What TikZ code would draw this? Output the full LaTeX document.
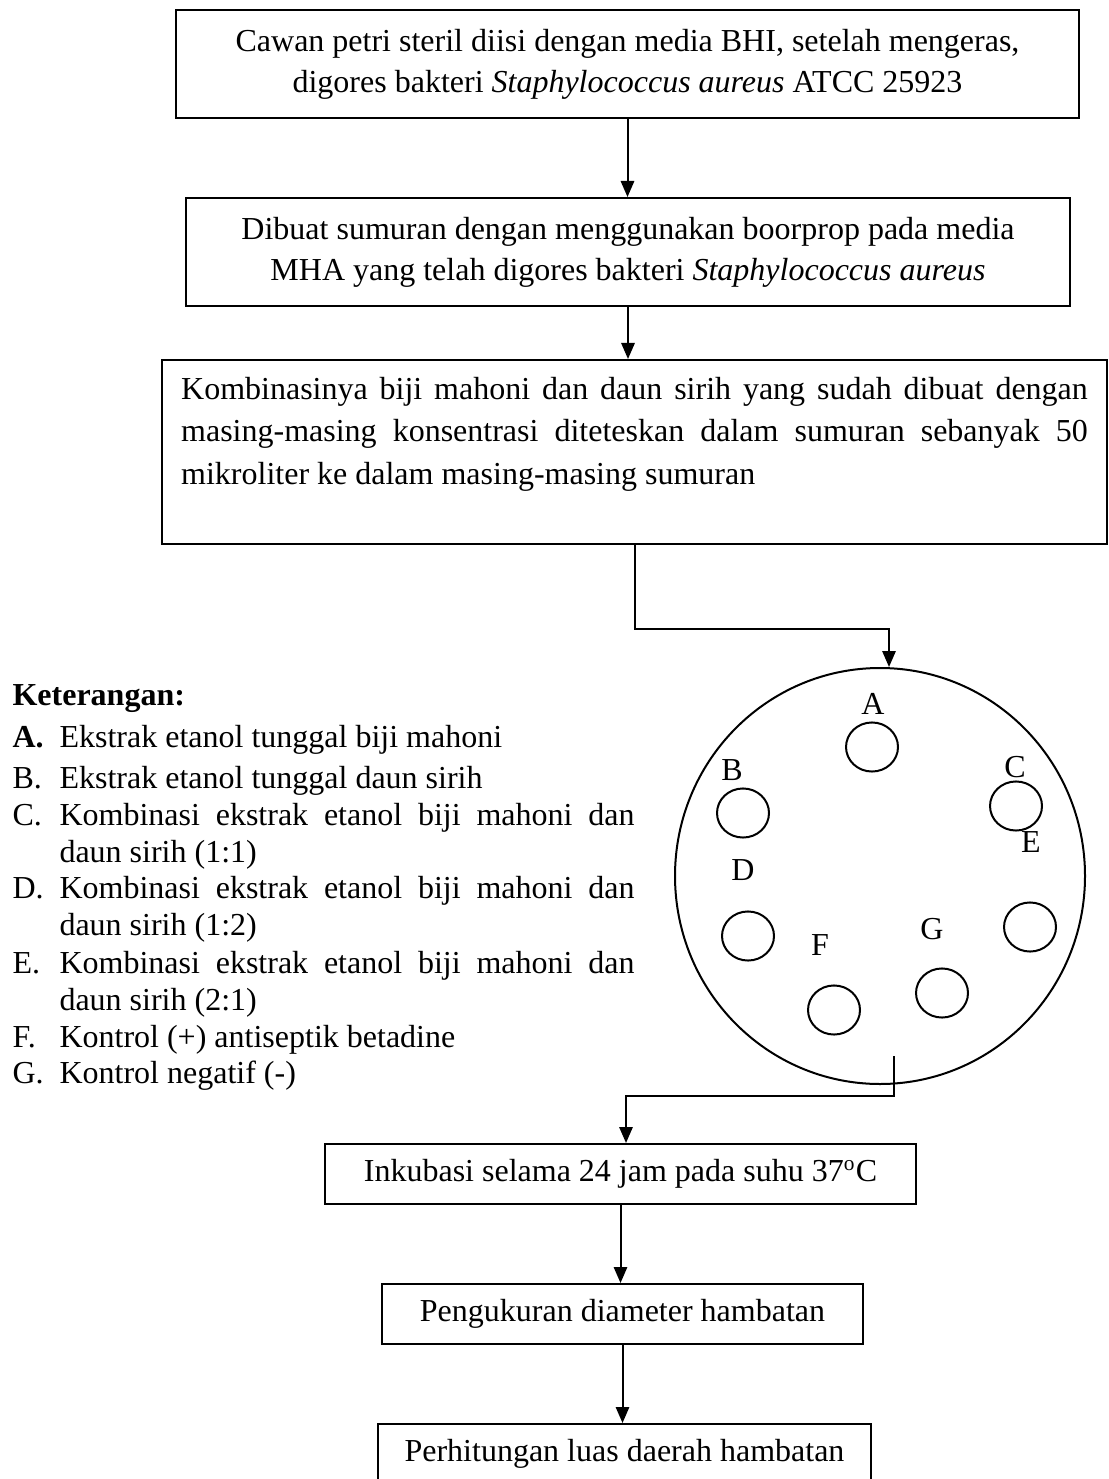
\documentclass[tikz,border=0pt]{standalone}
\usepackage{fontspec}
\setmainfont{Liberation Serif}
\usetikzlibrary{arrows.meta,shapes.geometric}
\tolerance=10000
\hbadness=10000
\hyphenpenalty=10000
\exhyphenpenalty=10000

\tikzset{
  box/.style={draw, line width=0.75pt, inner sep=0pt, align=center, font=\fontsize{12}{15.4}\selectfont},
  arr/.style={line width=0.75pt, -{Triangle[length=6pt,width=5pt]}},
  well/.style={line width=0.75pt},
  lbl/.style={anchor=base, inner sep=0pt, font=\fontsize{12}{14}\selectfont},
  ket/.style={anchor=base west, inner sep=0pt, font=\fontsize{12}{13.9}\selectfont},
  item/.style={ket, text width=215.6pt, align=justify}
}

\begin{document}
\begin{tikzpicture}[x=0.375pt, y=-0.375pt]
  \useasboundingbox (0,0) rectangle (1108,1479);
  \clip (0,0) rectangle (1108,1479);

  % langkah kerja
  \node[box, minimum width=338.6pt, minimum height=40.5pt] (cawan) at (627.5,64)
    {Cawan petri steril diisi dengan media BHI, setelah mengeras,\\
     digores bakteri \textit{Staphylococcus aureus} ATCC 25923};
  \node[box, minimum width=331.5pt, minimum height=40.5pt] (sumur) at (628,252)
    {Dibuat sumuran dengan menggunakan boorprop pada media\\
     MHA yang telah digores bakteri \textit{Staphylococcus aureus}};
  \node[box, minimum width=354.4pt, minimum height=69pt, text width=340pt, align=justify,
        font=\fontsize{12}{15.9}\selectfont] (kombinasi) at (634.5,452)
    {Kombinasinya biji mahoni dan daun sirih yang sudah dibuat dengan\linebreak
     masing-masing konsentrasi diteteskan dalam sumuran sebanyak 50\linebreak
     mikroliter ke dalam masing-masing sumuran\par\mbox{}};

  % cawan petri dengan sumuran
  \node[draw, ellipse, line width=0.75pt, minimum width=153.75pt, minimum height=156pt,
        inner sep=0pt] (plate) at (880,876) {};
  \draw[well] (872,747) ellipse [x radius=9.75pt, y radius=9.2pt];
  \draw[well] (743,813) ellipse [x radius=9.75pt, y radius=9.2pt];
  \draw[well] (1016,806) ellipse [x radius=9.75pt, y radius=9.2pt];
  \draw[well] (748,936) ellipse [x radius=9.75pt, y radius=9.2pt];
  \draw[well] (1030,927) ellipse [x radius=9.75pt, y radius=9.2pt];
  \draw[well] (834,1010) ellipse [x radius=9.75pt, y radius=9.2pt];
  \draw[well] (942,993) ellipse [x radius=9.75pt, y radius=9.2pt];
  \node[lbl] (labA) at (873,714) {A};
  \node[lbl] (labB) at (732,780) {B};
  \node[lbl] (labC) at (1015,777) {C};
  \node[lbl] (labE) at (1031,852) {E};
  \node[lbl] (labD) at (743,880) {D};
  \node[lbl] (labG) at (932,939) {G};
  \node[lbl] (labF) at (820,955) {F};

  \node[box, minimum width=221.6pt, minimum height=22.5pt] (inkubasi) at (620.5,1174)
    {Inkubasi selama 24 jam pada suhu 37\textsuperscript{o}C};
  \node[box, minimum width=180.4pt, minimum height=22.5pt] (ukur) at (622.5,1314)
    {Pengukuran diameter hambatan};
  \node[box, minimum width=184.9pt, minimum height=22.5pt] (luas) at (624.5,1454)
    {Perhitungan luas daerah hambatan};

  % panah
  \coordinate (belok1) at (889,629);
  \coordinate (keluar) at (894,1056);
  \coordinate (belok2) at (626,1096);
  \draw[arr] (cawan.south) -- (cawan.south |- sumur.north);
  \draw[arr] (sumur.south) -- (sumur.south |- kombinasi.north);
  \draw[arr] (kombinasi.south) |- (belok1) -- (belok1 |- plate.north);
  \draw[arr] (keluar) |- (belok2) -- (belok2 |- inkubasi.north);
  \draw[arr] (inkubasi.south) -- (inkubasi.south |- ukur.north);
  \draw[arr] (ukur.south) -- (ukur.south |- luas.north);

  % keterangan
  \node[ket] (keterangan) at (12,705) {\textbf{Keterangan:}};
  \node[ket] (hA) at (12,747) {\textbf{A.}};
  \node[ket] (kA) at (59,747) {Ekstrak etanol tunggal biji mahoni};
  \node[ket] (hB) at (12,788) {B.};
  \node[ket] (kB) at (59,788) {Ekstrak etanol tunggal daun sirih};
  \node[ket] (hC) at (12,825) {C.};
  \node[item] (kC) at (59,825) {Kombinasi ekstrak etanol biji mahoni dan\linebreak daun sirih (1:1)};
  \node[ket] (hD) at (12,898) {D.};
  \node[item] (kD) at (59,898) {Kombinasi ekstrak etanol biji mahoni dan\linebreak daun sirih (1:2)};
  \node[ket] (hE) at (12,973) {E.};
  \node[item] (kE) at (59,973) {Kombinasi ekstrak etanol biji mahoni dan\linebreak daun sirih (2:1)};
  \node[ket] (hF) at (12,1047) {F.};
  \node[ket] (kF) at (59,1047) {Kontrol (+) antiseptik betadine};
  \node[ket] (hG) at (12,1083) {G.};
  \node[ket] (kG) at (59,1083) {Kontrol negatif (-)};
\end{tikzpicture}
\end{document}
